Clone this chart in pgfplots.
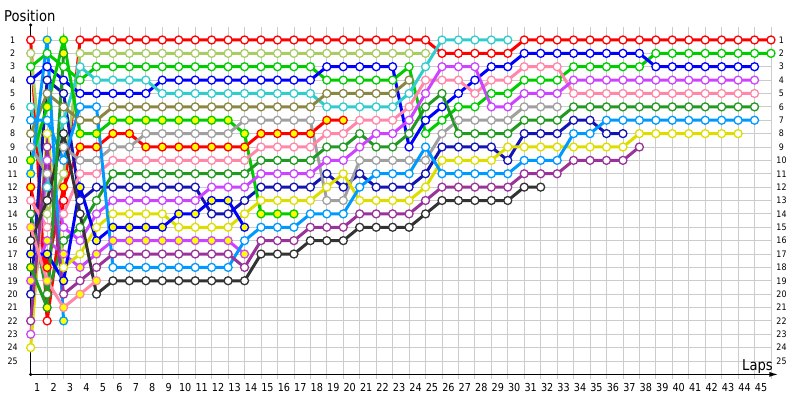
\documentclass[border=0pt]{standalone}
\usepackage{fontspec}
\setmainfont[FakeStretch=0.88]{DejaVu Sans}
\usepackage{pgfplots}
\pgfplotsset{compat=1.18}
\usetikzlibrary{arrows.meta}
\definecolor{gridc}{HTML}{CCCCCC}
\definecolor{cR}{HTML}{FF0000}
\definecolor{cLO}{HTML}{AACC66}
\definecolor{cG}{HTML}{00CC00}
\definecolor{cB}{HTML}{0000FF}
\definecolor{cN}{HTML}{1414B4}
\definecolor{cC}{HTML}{33CCCC}
\definecolor{cO}{HTML}{888844}
\definecolor{cGr}{HTML}{A0A0A0}
\definecolor{cP}{HTML}{FF88AA}
\definecolor{cDG}{HTML}{229922}
\definecolor{cM}{HTML}{CC44FF}
\definecolor{cY}{HTML}{DDDD00}
\definecolor{cPu}{HTML}{993399}
\definecolor{cLB}{HTML}{0099FF}
\definecolor{cK}{HTML}{333333}
\definecolor{cYf}{HTML}{FFFF00}
\pgfplotsset{drv/.style 2 args={draw=#1, line width=3bp, mark=*, mark size=4bp, mark options={draw=#1, fill=#2, line width=1.3bp, solid}}}
\begin{document}
\begin{tikzpicture}
\useasboundingbox (0,0) rectangle (800bp,400bp);
\begin{axis}[at={(30.7bp,25.6bp)}, anchor=south west, scale only axis,
 width=740.3bp, height=347.8bp, xmin=0, xmax=45, ymin=0, ymax=26, y dir=reverse,
 clip=false, axis line style={draw=none}, tick style={draw=none},
 xtick={1,...,45}, ytick={1,...,25}, grid=major,
 major grid style={draw=gridc, line width=0.8bp},
 /pgf/number format/assume math mode=true,
 xticklabel pos=lower,
 xticklabel style={font=\fontsize{11}{11}\selectfont, anchor=center, xshift=-10bp, yshift=-13bp},
 yticklabel style={font=\fontsize{9}{9}\selectfont, anchor=center, xshift=-18bp},
]
\pgfplotsinvokeforeach{1,...,45}{\draw[gridc, line width=0.8bp] (axis cs:#1,26) -- ([yshift=-5bp]axis cs:#1,26);}
\draw[black, line width=1.4bp] (axis cs:0,-0.12) -- (axis cs:0,26);
\fill[black] (axis cs:0,-0.12) circle (1.7bp);
\fill[black] (axis cs:0,26) circle (1.7bp);
\draw[black, line width=1.4bp, -{Latex[length=9bp,width=5bp]}] (axis cs:0,26) -- (axis cs:45.45,26);
\pgfplotsinvokeforeach{1,...,25}{\node[font=\fontsize{9}{9}\selectfont] at ([xshift=10.5bp]axis cs:45,#1) {#1};}

% Red white
\addplot[drv={cR}{white}] coordinates {(0,1)(1,22)(2,13)(3,1)(4,1)(5,1)(6,1)(7,1)(8,1)(9,1)(10,1)(11,1)(12,1)(13,1)(14,1)(15,1)(16,1)(17,1)(18,1)(19,1)(20,1)(21,1)(22,1)(23,1)(24,1)(25,2)(26,2)(27,2)(28,2)(29,2)(30,1)(31,1)(32,1)(33,1)(34,1)(35,1)(36,1)(37,1)(38,1)(39,1)(40,1)(41,1)(42,1)(43,1)(44,1)(45,1)};
% Red yellow
\addplot[drv={cR}{cYf}] coordinates {(0,12)(1,18)(2,12)(3,9)(4,9)(5,8)(6,8)(7,9)(8,9)(9,9)(10,9)(11,9)(12,9)(13,9)(14,8)(15,8)(16,8)(17,8)(18,7)(19,7)};
% Light olive
\addplot[drv={cLO}{white}] coordinates {(0,2)(1,14)(2,11)(3,2)(4,2)(5,2)(6,2)(7,2)(8,2)(9,2)(10,2)(11,2)(12,2)(13,2)(14,2)(15,2)(16,2)(17,2)(18,2)(19,2)(20,2)(21,2)(22,2)(23,2)(24,2)};
% Green white
\addplot[drv={cG}{white}] coordinates {(0,3)(1,2)(2,3)(3,4)(4,3)(5,3)(6,3)(7,3)(8,3)(9,3)(10,3)(11,3)(12,3)(13,3)(14,3)(15,3)(16,3)(17,3)(18,4)(19,4)(20,4)(21,4)(22,4)(23,3)(24,8)(25,7)(26,6)(27,6)(28,5)(29,5)(30,4)(31,4)(32,4)(33,3)(34,3)(35,3)(36,3)(37,3)(38,2)(39,2)(40,2)(41,2)(42,2)(43,2)(44,2)(45,2)};
% Blue white
\addplot[drv={cB}{white}] coordinates {(0,4)(1,3)(2,4)(3,5)(4,5)(5,5)(6,5)(7,5)(8,4)(9,4)(10,4)(11,4)(12,4)(13,4)(14,4)(15,4)(16,4)(17,4)(18,3)(19,3)(20,3)(21,3)(22,3)(23,9)(24,7)(25,6)(26,5)(27,4)(28,3)(29,3)(30,2)(31,2)(32,2)(33,2)(34,2)(35,2)(36,2)(37,2)(38,3)(39,3)(40,3)(41,3)(42,3)(43,3)(44,3)};
% Navy
\addplot[drv={cN}{white}] coordinates {(0,20)(1,4)(2,5)(3,13)(4,12)(5,12)(6,12)(7,12)(8,12)(9,12)(10,12)(11,14)(12,14)(13,13)(14,12)(15,12)(16,12)(17,12)(18,11)(19,12)(20,11)(21,12)(22,12)(23,12)(24,11)(25,9)(26,9)(27,9)(28,9)(29,10)(30,8)(31,8)(32,8)(33,7)(34,7)(35,8)(36,8)};
% Cyan
\addplot[drv={cC}{white}] coordinates {(0,6)(1,12)(2,7)(3,3)(4,4)(5,4)(6,4)(7,4)(8,5)(9,5)(10,5)(11,5)(12,5)(13,5)(14,5)(15,5)(16,5)(17,5)(18,6)(19,6)(20,6)(21,6)(22,6)(23,5)(24,3)(25,1)(26,1)(27,1)(28,1)(29,1)};
% Olive
\addplot[drv={cO}{white}] coordinates {(0,8)(1,5)(2,6)(3,7)(4,7)(5,6)(6,6)(7,6)(8,6)(9,6)(10,6)(11,6)(12,6)(13,6)(14,6)(15,6)(16,6)(17,6)(18,5)(19,5)(20,5)(21,5)(22,5)(23,4)};
% Green yellow
\addplot[drv={cG}{cYf}] coordinates {(0,10)(1,6)(2,1)(3,8)(4,8)(5,7)(6,7)(7,7)(8,7)(9,7)(10,7)(11,7)(12,7)(13,8)(14,14)(15,14)(16,14)};
% Gray
\addplot[drv={cGr}{white}] coordinates {(0,9)(1,11)(2,9)(3,10)(4,10)(5,9)(6,9)(7,8)(8,8)(9,8)(10,8)(11,8)(12,8)(13,7)(14,7)(15,7)(16,7)(17,7)(18,13)(19,13)(20,10)(21,10)(22,10)(23,10)(24,10)(25,8)(26,7)(27,7)(28,7)(29,7)(30,6)(31,6)(32,6)};
% Pink white
\addplot[drv={cP}{white}] coordinates {(0,13)(1,15)(2,14)(3,11)(4,11)(5,10)(6,10)(7,10)(8,10)(9,10)(10,10)(11,10)(12,10)(13,10)(14,9)(15,9)(16,9)(17,9)(18,8)(19,8)(20,7)(21,7)(22,7)(23,6)(24,4)(25,4)(26,4)(27,5)(28,4)(29,4)(30,3)(31,3)(32,3)(33,5)(34,5)(35,5)(36,5)(37,5)(38,5)(39,5)(40,5)(41,5)(42,5)(43,5)(44,5)};
% Dark green
\addplot[drv={cDG}{white}] coordinates {(0,14)(1,20)(2,16)(3,15)(4,13)(5,11)(6,11)(7,11)(8,11)(9,11)(10,11)(11,11)(12,11)(13,11)(14,10)(15,10)(16,10)(17,10)(18,9)(19,9)(20,8)(21,9)(22,9)(23,8)(24,6)(25,5)(26,8)(27,8)(28,8)(29,8)(30,7)(31,7)(32,7)(33,6)(34,6)(35,6)(36,6)(37,6)(38,6)(39,6)(40,6)(41,6)(42,6)(43,6)(44,6)};
% Magenta white
\addplot[drv={cM}{white}] coordinates {(0,23)(1,10)(2,15)(3,16)(4,14)(5,13)(6,13)(7,13)(8,13)(9,13)(10,13)(11,12)(12,12)(13,12)(14,11)(15,11)(16,11)(17,11)(18,10)(19,10)(20,9)(21,8)(22,8)(23,7)(24,5)(25,3)(26,3)(27,3)(28,6)(29,6)(30,5)(31,5)(32,5)(33,4)(34,4)(35,4)(36,4)(37,4)(38,4)(39,4)(40,4)(41,4)(42,4)(43,4)(44,4)};
% Magenta yellow
\addplot[drv={cM}{cYf}] coordinates {(0,19)(1,16)(2,17)(3,18)(4,17)(5,16)(6,16)(7,16)(8,16)(9,16)(10,16)(11,16)(12,16)(13,17)};
% Yellow
\addplot[drv={cY}{white}] coordinates {(0,24)(1,8)(2,18)(3,17)(4,15)(5,14)(6,14)(7,14)(8,14)(9,15)(10,15)(11,15)(12,15)(13,14)(14,13)(15,13)(16,13)(17,13)(18,12)(19,11)(20,13)(21,13)(22,13)(23,13)(24,12)(25,10)(26,10)(27,10)(28,10)(29,9)(30,9)(31,9)(32,9)(33,9)(34,9)(35,9)(36,9)(37,8)(38,8)(39,8)(40,8)(41,8)(42,8)(43,8)};
% Blue yellow
\addplot[drv={cB}{cYf}] coordinates {(0,17)(1,17)(2,19)(3,12)(4,16)(5,15)(6,15)(7,15)(8,15)(9,14)(10,14)(11,13)(12,13)(13,15)};
% Light blue white
\addplot[drv={cLB}{white}] coordinates {(0,7)(1,7)(2,10)(3,6)(4,6)(5,18)(6,18)(7,18)(8,18)(9,18)(10,18)(11,18)(12,18)(13,16)(14,15)(15,15)(16,15)(17,14)(18,14)(19,14)(20,12)(21,11)(22,11)(23,11)(24,9)(25,11)(26,11)(27,11)(28,11)(29,11)(30,10)(31,10)(32,10)(33,8)(34,8)(35,7)(36,7)(37,7)(38,7)(39,7)(40,7)(41,7)(42,7)(43,7)(44,7)};
% Light blue yellow
\addplot[drv={cLB}{cYf}] coordinates {(0,11)(1,1)(2,22)};
% Purple
\addplot[drv={cPu}{white}] coordinates {(0,22)(1,9)(2,20)(3,19)(4,18)(5,17)(6,17)(7,17)(8,17)(9,17)(10,17)(11,17)(12,17)(13,18)(14,16)(15,16)(16,16)(17,15)(18,15)(19,15)(20,14)(21,14)(22,14)(23,14)(24,13)(25,12)(26,12)(27,12)(28,12)(29,12)(30,11)(31,11)(32,11)(33,10)(34,10)(35,10)(36,10)(37,9)};
% Black
\addplot[drv={cK}{white}] coordinates {(0,16)(1,13)(2,8)(3,14)(4,20)(5,19)(6,19)(7,19)(8,19)(9,19)(10,19)(11,19)(12,19)(13,19)(14,17)(15,17)(16,17)(17,16)(18,16)(19,16)(20,15)(21,15)(22,15)(23,15)(24,14)(25,13)(26,13)(27,13)(28,13)(29,13)(30,12)(31,12)};
% Pink yellow
\addplot[drv={cP}{cYf}] coordinates {(0,15)(1,19)(2,21)(3,20)(4,19)};
% Dark green yellow
\addplot[drv={cDG}{cYf}] coordinates {(0,18)(1,21)(2,2)};
\end{axis}
\node[font=\fontsize{15}{15}\selectfont, anchor=base west, inner sep=0pt] at (4bp,378bp) {Position};
\node[font=\fontsize{15}{15}\selectfont, anchor=base east, inner sep=0pt] at (773bp,30bp) {Laps};
\end{tikzpicture}
\end{document}
